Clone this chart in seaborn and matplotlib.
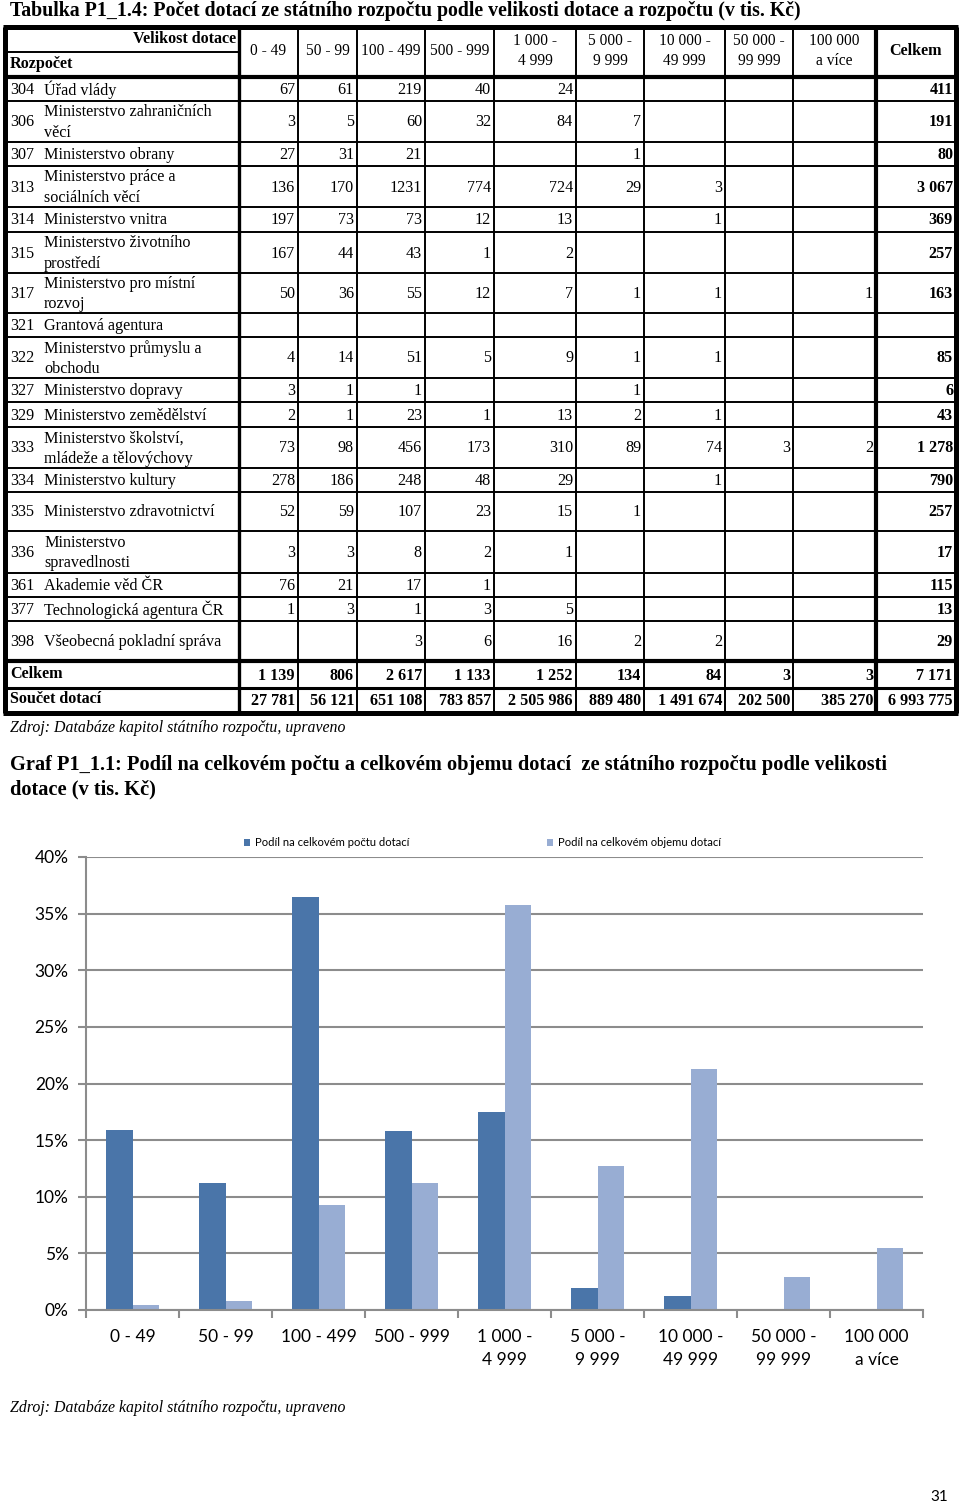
import matplotlib
matplotlib.use("Agg")
import matplotlib.pyplot as plt
import seaborn as sns
import pandas as pd

# ---- data: table ----
kody = ['304', '306', '307', '313', '314', '315', '317', '321', '322', '327',
        '329', '333', '334', '335', '336', '361', '377', '398']
nazvy = ['Úřad vlády', 'Ministerstvo zahraničních\nvěcí', 'Ministerstvo obrany',
         'Ministerstvo práce a\nsociálních věcí', 'Ministerstvo vnitra',
         'Ministerstvo životního\nprostředí', 'Ministerstvo pro místní\nrozvoj',
         'Grantová agentura', 'Ministerstvo průmyslu a\nobchodu', 'Ministerstvo dopravy',
         'Ministerstvo zemědělství', 'Ministerstvo školství,\nmládeže a tělovýchovy',
         'Ministerstvo kultury', 'Ministerstvo zdravotnictví',
         'Ministerstvo\nspravedlnosti', 'Akademie věd ČR', 'Technologická agentura ČR',
         'Všeobecná pokladní správa']
hodnoty = [
    ['67', '61', '219', '40', '24', '', '', '', ''],
    ['3', '5', '60', '32', '84', '7', '', '', ''],
    ['27', '31', '21', '', '', '1', '', '', ''],
    ['136', '170', '1231', '774', '724', '29', '3', '', ''],
    ['197', '73', '73', '12', '13', '', '1', '', ''],
    ['167', '44', '43', '1', '2', '', '', '', ''],
    ['50', '36', '55', '12', '7', '1', '1', '', '1'],
    ['', '', '', '', '', '', '', '', ''],
    ['4', '14', '51', '5', '9', '1', '1', '', ''],
    ['3', '1', '1', '', '', '1', '', '', ''],
    ['2', '1', '23', '1', '13', '2', '1', '', ''],
    ['73', '98', '456', '173', '310', '89', '74', '3', '2'],
    ['278', '186', '248', '48', '29', '', '1', '', ''],
    ['52', '59', '107', '23', '15', '1', '', '', ''],
    ['3', '3', '8', '2', '1', '', '', '', ''],
    ['76', '21', '17', '1', '', '', '', '', ''],
    ['1', '3', '1', '3', '5', '', '', '', ''],
    ['', '', '3', '6', '16', '2', '2', '', ''],
]
celkem_radek = ['411', '191', '80', '3 067', '369', '257', '163', '', '85', '6',
                '43', '1 278', '790', '257', '17', '115', '13', '29']
celkem_pocet = ['1 139', '806', '2 617', '1 133', '1 252', '134', '84', '3', '3', '7 171']
soucet_dotaci = ['27 781', '56 121', '651 108', '783 857', '2 505 986', '889 480',
                 '1 491 674', '202 500', '385 270', '6 993 775']
hlavicky = ['0 - 49', '50 - 99', '100 - 499', '500 - 999', '1 000 -\n4 999', '5 000 -\n9 999',
            '10 000 -\n49 999', '50 000 -\n99 999', '100 000\na více']

# ---- data: chart (percent) ----
kategorie = ['0 - 49', '50 - 99', '100 - 499', '500 - 999', '1 000 -\n4 999',
             '5 000 -\n9 999', '10 000 -\n49 999', '50 000 -\n99 999', '100 000\na více']
podil_pocet = [15.9, 11.2, 36.5, 15.8, 17.5, 1.9, 1.2, 0.04, 0.04]
podil_objem = [0.4, 0.8, 9.3, 11.2, 35.8, 12.7, 21.3, 2.9, 5.5]
serie = ['Podíl na celkovém počtu dotací', 'Podíl na celkovém objemu dotací']

W, H = 960, 1504
fig = plt.figure(figsize=(W / 100, H / 100), dpi=100)
page = fig.add_axes([0, 0, 1, 1])
page.set_xlim(0, W)
page.set_ylim(H, 0)
page.axis('off')

SERIF = 'Liberation Serif'
SANS = 'Lato'
FS = 11.6


def txt(x, y, s, **kw):
    kw.setdefault('family', SERIF)
    kw.setdefault('fontsize', FS)
    kw.setdefault('va', 'center')
    page.text(x, y, s, **kw)


def hline(y, x0, x1, lw):
    page.plot([x0, x1], [y, y], color='black', lw=lw, solid_capstyle='butt')


def vline(x, y0, y1, lw):
    page.plot([x, x], [y0, y1], color='black', lw=lw, solid_capstyle='butt')


# ---- table title ----
txt(10, 11, 'Tabulka P1_1.4: Počet dotací ze státního rozpočtu podle velikosti dotace a rozpočtu (v tis. Kč)',
    fontsize=14.3, fontweight='bold')

# layout of table
col_x = [239, 298, 357, 425, 494, 576, 644, 725, 793, 876, 955]
row_y = [77, 101, 142, 166, 207, 232, 273, 313, 337, 378, 402, 427, 468, 492, 531, 573, 597, 621, 661]
top, left, right = 27, 5, 956
celk_y = (661, 688)
souc_y = (688, 712)

thin, thick = 1.4, 3.0
for y in row_y[1:-1]:
    hline(y, left, right, thin)
hline(row_y[0], left, right, thick)
hline(row_y[-1], left, right, thick)
hline(celk_y[1], left, right, 2.2)
hline(52, left, col_x[0], thin)
for i, x in enumerate(col_x[1:-1]):
    vline(x, top, souc_y[1], thick if x == 876 else thin)
vline(col_x[0], top, souc_y[1], 2.4)
# outer border
hline(top, left - 2, right + 2, 3.6)
hline(souc_y[1] + 1, left - 2, right + 2, 3.6)
vline(left, top, souc_y[1] + 1, 3.6)
vline(right, top, souc_y[1] + 1, 3.6)

# header
txt(236, 39, 'Velikost dotace', ha='right', fontweight='bold')
txt(10, 64, 'Rozpočet', fontweight='bold')
for j, h in enumerate(hlavicky):
    cx = (col_x[j] + col_x[j + 1]) / 2
    txt(cx, 51, h, ha='center', fontsize=11.2, linespacing=1.3)
txt((col_x[9] + col_x[10]) / 2, 51, 'Celkem', ha='center', fontweight='bold')

# body rows
for i in range(len(kody)):
    cy = (row_y[i] + row_y[i + 1]) / 2 + 1
    txt(10, cy, kody[i])
    txt(44, cy, nazvy[i], linespacing=1.35)
    for j, v in enumerate(hodnoty[i]):
        txt(col_x[j + 1] - 3, cy, v, ha='right')
    txt(col_x[10] - 2, cy, celkem_radek[i], ha='right', fontweight='bold')

for (y0, y1), lab, vals in [(celk_y, 'Celkem', celkem_pocet), (souc_y, 'Součet dotací', soucet_dotaci)]:
    cy = (y0 + y1) / 2
    txt(10, cy - 1, lab, fontweight='bold')
    for j, v in enumerate(vals):
        txt(col_x[j + 1] - 3, cy + 1, v, ha='right', fontweight='bold')

txt(10, 728, 'Zdroj: Databáze kapitol státního rozpočtu, upraveno', fontstyle='italic', fontsize=11.4)

# ---- chart title ----
txt(10, 765, 'Graf P1_1.1: Podíl na celkovém počtu a celkovém objemu dotací  ze státního rozpočtu podle velikosti',
    fontsize=14.7, fontweight='bold')
txt(10, 789, 'dotace (v tis. Kč)', fontsize=14.7, fontweight='bold')

# ---- chart ----
df = pd.DataFrame({
    'kategorie': kategorie * 2,
    'serie': [serie[0]] * len(kategorie) + [serie[1]] * len(kategorie),
    'podil': podil_pocet + podil_objem,
})

x0, x1, y0, y1 = 86, 923, 1310, 857
ax = fig.add_axes([x0 / W, 1 - y0 / H, (x1 - x0) / W, (y0 - y1) / H])
sns.barplot(data=df, x='kategorie', y='podil', hue='serie', order=kategorie,
            palette=['#4A75A9', '#98ADD3'], width=0.57, saturation=1, ax=ax)
grey = '#8C8C8C'
ax.set_ylim(0, 40)
ax.set_xlim(-0.5, len(kategorie) - 0.5)
ax.set_yticks(range(0, 41, 5))
ax.set_yticklabels([f'{v}%' for v in range(0, 41, 5)], family=SANS, fontsize=12.5)
ax.yaxis.grid(True, color=grey, lw=1.5)
ax.set_axisbelow(True)
ax.set_xlabel('')
ax.set_ylabel('')
for s in ['top', 'right']:
    ax.spines[s].set_visible(False)
for s in ['left', 'bottom']:
    ax.spines[s].set_color(grey)
    ax.spines[s].set_linewidth(1.5)
ax.tick_params(axis='y', length=6, width=1.5, color=grey, pad=6.5)
ax.tick_params(axis='x', which='major', length=0, pad=14)
ax.set_xticks([i - 0.5 for i in range(len(kategorie) + 1)], minor=True)
ax.tick_params(axis='x', which='minor', length=6, width=1.5, color=grey)
for lab in ax.get_xticklabels():
    lab.set_family(SANS)
    lab.set_fontsize(12.5)
    lab.set_va('top')
    lab.set_linespacing(1.5)

handles, labels = ax.get_legend_handles_labels()
ax.legend(handles, labels, ncol=2, loc='center left', frameon=False,
          bbox_to_anchor=(238 / W, 1 - 843 / H), bbox_transform=fig.transFigure,
          prop={'family': SANS, 'size': 8.1}, handlelength=0.6, handleheight=0.6,
          handletextpad=0.4, columnspacing=12.2, borderpad=0)

txt(10, 1408, 'Zdroj: Databáze kapitol státního rozpočtu, upraveno', fontstyle='italic', fontsize=11.4)
page.text(948, 1497, '31', family=SANS, fontsize=11, ha='right', va='center')

fig.savefig('out.png', dpi=100)
